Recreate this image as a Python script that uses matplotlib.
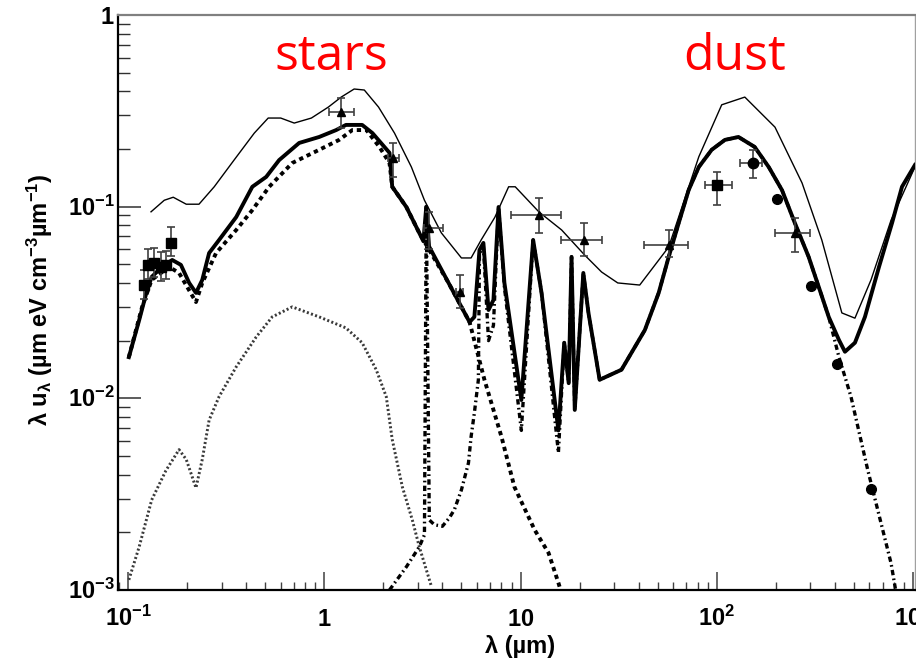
import numpy as np
import matplotlib
matplotlib.use("Agg")
import matplotlib.pyplot as plt
from matplotlib.ticker import LogLocator, NullFormatter, FixedLocator

# ---------------- data (wavelength in micron, lambda*u_lambda) ----------------
# thin solid line (upper model)
x_thin = [0.131, 0.153, 0.170, 0.198, 0.230, 0.275, 0.347, 0.44, 0.518, 0.60, 0.703, 0.86, 1.05,
          1.22, 1.42, 1.60, 1.89, 2.28, 2.78, 3.24, 3.95, 5.0, 5.6, 6.3, 7.4, 8.7, 9.4, 12.4, 16.2,
          21.2, 25.9, 31.3, 40.5, 56.9, 81, 106, 139, 198, 272, 343, 434, 506, 611, 773, 1023]
y_thin = [0.094, 0.108, 0.112, 0.103, 0.103, 0.127, 0.175, 0.242, 0.290, 0.290, 0.273, 0.29, 0.331,
          0.373, 0.411, 0.406, 0.331, 0.242, 0.161, 0.108, 0.073, 0.054, 0.054, 0.067, 0.088, 0.127,
          0.127, 0.094, 0.0756, 0.056, 0.0456, 0.040, 0.039, 0.0616, 0.182, 0.34, 0.373, 0.26, 0.133,
          0.067, 0.0279, 0.0262, 0.0415, 0.085, 0.161]

# thick solid line (total model)
x_tot = [0.101, 0.114, 0.124, 0.132, 0.149, 0.168, 0.186, 0.205, 0.222, 0.239, 0.259, 0.291, 0.356,
         0.430, 0.506, 0.589, 0.745, 0.942, 1.15, 1.29, 1.56, 1.76, 2.15, 2.22, 2.62, 3.05, 3.2, 3.31,
         3.42, 4.30, 5.50, 5.82, 6.18, 6.47, 6.87, 7.28, 7.73, 8.28, 10.1, 11.6, 12.8, 15.6, 16.7,
         17.6, 18.2, 18.9, 20.9, 22.2, 25.3, 32.7, 43.0, 50.6, 56.9, 64.0, 71.9, 81.0, 94.2, 110,
         129, 156, 184, 215, 250, 294, 331, 372, 419, 450, 506, 569, 671, 782, 879, 1023]
y_tot = [0.0164, 0.0256, 0.0355, 0.043, 0.0485, 0.0527, 0.0497, 0.040, 0.0355, 0.0415, 0.0573, 0.067,
         0.0883, 0.127, 0.143, 0.175, 0.215, 0.231, 0.251, 0.267, 0.267, 0.242, 0.191, 0.127, 0.0996,
         0.0729, 0.066, 0.100, 0.062, 0.040, 0.025, 0.0266, 0.0594, 0.0647, 0.0289, 0.0326, 0.0996,
         0.040, 0.0098, 0.067, 0.0355, 0.0068, 0.0195, 0.012, 0.0547, 0.0087, 0.0451, 0.0279, 0.0125,
         0.0141, 0.0227, 0.0355, 0.0547, 0.0822, 0.122, 0.161, 0.198, 0.223, 0.231, 0.205, 0.161,
         0.122, 0.0822, 0.0547, 0.0381, 0.0266, 0.0202, 0.0175, 0.0195, 0.0266, 0.0485, 0.0822,
         0.127, 0.165]

# dashed: attenuated stellar emission
x_stars = [0.101, 0.118, 0.132, 0.162, 0.182, 0.222, 0.239, 0.281, 0.356, 0.430, 0.524, 0.687, 0.942,
           1.19, 1.39, 1.64, 1.91, 2.15, 2.22, 2.62, 3.05, 4.30, 5.50, 6.55, 8.0, 9.31, 11.8, 13.9,
           15.6, 16.5]
y_stars = [0.0164, 0.030, 0.0415, 0.0485, 0.0451, 0.0318, 0.040, 0.0573, 0.0756, 0.096, 0.127, 0.169,
           0.198, 0.223, 0.251, 0.251, 0.205, 0.169, 0.127, 0.0996, 0.0729, 0.040, 0.025, 0.0125,
           0.0063, 0.00345, 0.00206, 0.00156, 0.00109, 0.0009]

# grey dotted: second stellar component
x_young = [0.101, 0.114, 0.132, 0.156, 0.182, 0.198, 0.222, 0.239, 0.259, 0.291, 0.356, 0.45, 0.543,
           0.687, 0.942, 1.29, 1.56, 1.84, 2.07, 2.22, 2.50, 2.81, 3.05, 3.52]
y_young = [0.00113, 0.00168, 0.00295, 0.0042, 0.0054, 0.0048, 0.00341, 0.0048, 0.0077, 0.0102, 0.0146,
           0.0209, 0.0266, 0.030, 0.0266, 0.0233, 0.0195, 0.0141, 0.0102, 0.0061, 0.00345, 0.00232,
           0.00168, 0.00104]

# dash-dot: dust emission
x_dust = [2.15, 2.62, 3.05, 3.24, 3.31, 3.43, 3.64, 4.0, 4.34, 4.6, 5.0, 5.43, 5.6, 5.82, 6.1, 6.18,
          6.47, 6.87, 7.28, 7.73, 8.28, 10.1, 11.6, 12.8, 15.6, 16.7, 17.6, 18.2, 18.9, 20.9, 22.2,
          25.3, 32.7, 43.0, 50.6, 56.9, 64.0, 71.9, 81.0, 94.2, 110, 129, 156, 184, 215, 250, 294,
          331, 372, 419, 483, 589, 773, 830]
y_dust = [0.001, 0.00132, 0.00168, 0.00194, 0.102, 0.00232, 0.00219, 0.00215, 0.00238, 0.00262,
          0.00333, 0.0046, 0.0063, 0.0084, 0.0125, 0.057, 0.062, 0.020, 0.024, 0.0996, 0.038, 0.0068,
          0.067, 0.0355, 0.0052, 0.0195, 0.012, 0.0547, 0.0087, 0.0451, 0.0279, 0.0125, 0.0141,
          0.0227, 0.0355, 0.0547, 0.0822, 0.122, 0.161, 0.198, 0.223, 0.231, 0.205, 0.161, 0.122,
          0.0822, 0.0547, 0.0381, 0.0266, 0.0165, 0.0102, 0.0042, 0.00138, 0.0009]

# UV squares
x_sq = [0.121, 0.126, 0.136, 0.147, 0.156, 0.166]
y_sq = [0.039, 0.0497, 0.0508, 0.0486, 0.0497, 0.0647]
y_sq_hi = [0.047, 0.060, 0.061, 0.058, 0.059, 0.078]
y_sq_lo = [0.033, 0.042, 0.043, 0.041, 0.042, 0.055]

# triangles
x_tri = [1.22, 2.25, 3.43, 4.89, 12.4, 21.0, 57.0, 250.0]
y_tri = [0.312, 0.18, 0.0774, 0.0359, 0.0905, 0.067, 0.063, 0.073]
x_tri_lo = [1.06, 2.12, 3.24, 4.7, 8.9, 16.0, 42.6, 198]
x_tri_hi = [1.42, 2.39, 4.05, 5.1, 16.0, 26.0, 71.0, 300]
y_tri_lo = [0.257, 0.143, 0.060, 0.0295, 0.073, 0.055, 0.0547, 0.058]
y_tri_hi = [0.369, 0.215, 0.094, 0.044, 0.111, 0.082, 0.0756, 0.087]

# far-IR points with error bars (square at 100, circle at 160)
x_fir = [100.0, 153.0]
y_fir = [0.13, 0.169]
x_fir_lo = [87.0, 131.0]
x_fir_hi = [120.0, 170.0]
y_fir_lo = [0.102, 0.141]
y_fir_hi = [0.152, 0.198]

# circles
x_circ = [202, 302, 409, 611]
y_circ = [0.11, 0.0386, 0.0151, 0.00337]

xtick_vals = [0.1, 1, 10, 100, 1000]
xtick_labels = [r'$10^{-1}$', r'$1$', r'$10$', r'$10^{2}$', r'$10^{3}$']
ytick_vals = [0.001, 0.01, 0.1, 1]
ytick_labels = [r'$10^{-3}$', r'$10^{-2}$', r'$10^{-1}$', r'$1$']

# ---------------- style ----------------
plt.rcParams['font.family'] = ['Liberation Sans', 'DejaVu Sans']
plt.rcParams['font.weight'] = 'bold'
plt.rcParams['mathtext.fontset'] = 'custom'
plt.rcParams['mathtext.rm'] = 'Liberation Sans:bold'
plt.rcParams['mathtext.it'] = 'Liberation Sans:bold'
plt.rcParams['mathtext.bf'] = 'Liberation Sans:bold'
plt.rcParams['mathtext.default'] = 'rm'

fig = plt.figure(figsize=(9.16, 6.61), dpi=100)
W, H = 916.0, 661.0
ax = fig.add_axes([118 / W, 71 / H, 797 / W, 575 / H])
ax.set_xscale('log')
ax.set_yscale('log')
ax.set_xlim(10 ** -1.051, 10 ** 3.0102)
ax.set_ylim(1e-3, 1.0)

# curves
ax.plot(x_young, y_young, color='#3a3a3a', lw=2.1, dashes=(0.7, 0.8), zorder=2)
ax.plot(x_stars, y_stars, color='black', lw=2.8, dashes=(1.1, 1.0), zorder=3)
ax.plot(x_dust, y_dust, color='black', lw=2.4, dashes=(1.6, 1.0, 0.5, 1.0), zorder=3)
ax.plot(x_tot, y_tot, color='black', lw=2.8, zorder=4, solid_joinstyle='round')
ax.plot(x_thin, y_thin, color='black', lw=1.0, zorder=4)

# data points
eb = dict(ecolor='#404040', elinewidth=1.2, capsize=3, capthick=1.2, linestyle='none', zorder=5)
ax.errorbar(x_sq, y_sq,
            yerr=[np.array(y_sq) - np.array(y_sq_lo), np.array(y_sq_hi) - np.array(y_sq)],
            marker='s', ms=7.5, mfc='black', mec='black', **eb)
ax.errorbar(x_tri, y_tri,
            xerr=[np.array(x_tri) - np.array(x_tri_lo), np.array(x_tri_hi) - np.array(x_tri)],
            yerr=[np.array(y_tri) - np.array(y_tri_lo), np.array(y_tri_hi) - np.array(y_tri)],
            marker='^', ms=6, mfc='black', mec='black', **eb)
fir_markers = ['s', 'o']
for i in range(len(x_fir)):
    ax.errorbar([x_fir[i]], [y_fir[i]],
                xerr=[[x_fir[i] - x_fir_lo[i]], [x_fir_hi[i] - x_fir[i]]],
                yerr=[[y_fir[i] - y_fir_lo[i]], [y_fir_hi[i] - y_fir[i]]],
                marker=fir_markers[i], ms=7.5, mfc='black', mec='black', **eb)
ax.plot(x_circ, y_circ, 'o', color='black', ms=7, zorder=5)

# annotations
ax.text(1.085, 0.516, 'stars', color='#ff0000', fontsize=36, family='Open Sans',
        fontweight='normal', ha='center', va='baseline')
ax.text(123.6, 0.516, 'dust', color='#ff0000', fontsize=36, family='Open Sans',
        fontweight='normal', ha='center', va='baseline')

# spines and ticks
for s in ['left', 'bottom']:
    ax.spines[s].set_linewidth(1.6)
    ax.spines[s].set_color('black')
ax.spines['top'].set_linewidth(1.6)
ax.spines['top'].set_color('#808080')
ax.spines['right'].set_linewidth(1.0)
ax.spines['right'].set_color('#a0a0a0')

ax.xaxis.set_major_locator(FixedLocator(xtick_vals))
ax.yaxis.set_major_locator(FixedLocator(ytick_vals))
ax.xaxis.set_minor_locator(LogLocator(base=10, subs=np.arange(2, 10), numticks=30))
ax.yaxis.set_minor_locator(LogLocator(base=10, subs=np.arange(2, 10), numticks=30))
ax.xaxis.set_major_formatter(NullFormatter())
ax.yaxis.set_major_formatter(NullFormatter())
ax.xaxis.set_minor_formatter(NullFormatter())
ax.yaxis.set_minor_formatter(NullFormatter())
ax.tick_params(axis='x', which='major', direction='in', length=13, width=1.1, color='#404040',
               top=False, bottom=True)
ax.tick_params(axis='x', which='minor', direction='in', length=6, width=1.0, color='#404040',
               top=False, bottom=True)
ax.tick_params(axis='y', which='major', direction='in', length=16.5, width=1.1, color='#303030',
               left=True, right=False)
ax.tick_params(axis='y', which='minor', direction='in', length=8.5, width=1.0, color='#303030',
               left=True, right=False)

for v, lab in zip(xtick_vals, xtick_labels):
    ax.annotate(lab, xy=(v, 0), xycoords=('data', 'axes fraction'), xytext=(0, -26),
                textcoords='offset points', ha='center', va='baseline', fontsize=17,
                annotation_clip=False)
for v, lab in zip(ytick_vals, ytick_labels):
    ax.annotate(lab, xy=(0, v), xycoords=('axes fraction', 'data'), xytext=(-2.5, -6.3),
                textcoords='offset points', ha='right', va='baseline', fontsize=17,
                annotation_clip=False)

fig.text(520 / W, 1 - 647 / H, r'λ (µm)', ha='center', va='center', fontsize=17,
         fontweight='bold')
fig.text(40 / W, 1 - 300 / H, r'λ u$_{λ}$ (µm eV cm$^{-3}$µm$^{-1}$)', ha='center', va='center',
         rotation=90, fontsize=17, fontweight='bold')

fig.savefig('out.png', dpi=100, facecolor='white')
